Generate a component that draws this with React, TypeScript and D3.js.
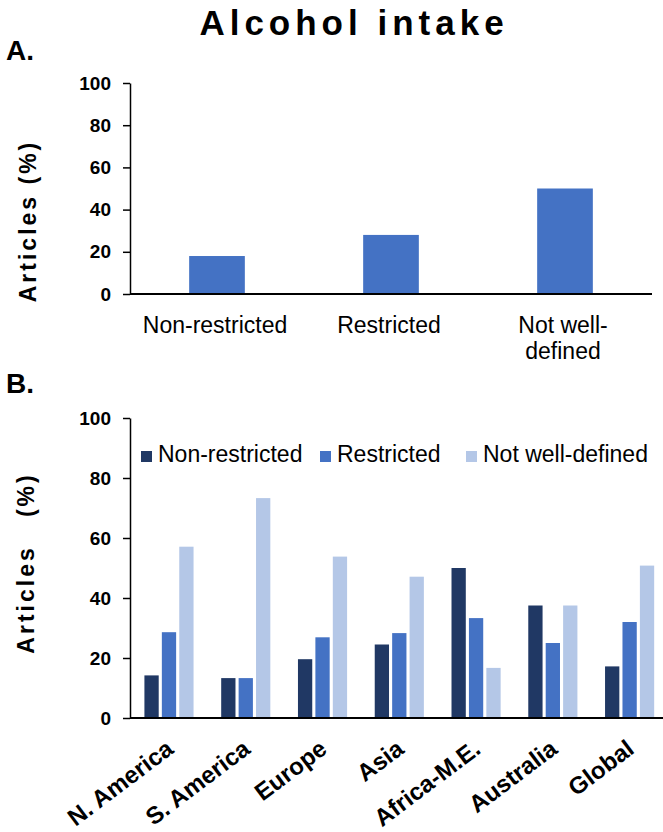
import React, { useEffect, useRef } from "react";
import * as d3 from "d3";

const W = 663;
const H = 832;
const FONT = "'Liberation Sans', Arial, Helvetica, sans-serif";

// Panel A
const catsA = ["Non-restricted", "Restricted", "Not well-defined"];
const labelsA = [["Non-restricted"], ["Restricted"], ["Not well-", "defined"]];
const valuesA = [18, 28, 50];

// Panel B
const regions = ["N. America", "S. America", "Europe", "Asia", "Africa-M.E.", "Australia", "Global"];
const seriesNames = ["Non-restricted", "Restricted", "Not well-defined"];
const nonRestricted = [14.2, 13.3, 19.6, 24.5, 50, 37.5, 17.2];
const restricted = [28.6, 13.3, 26.9, 28.3, 33.3, 25, 32];
const notWellDefined = [57.1, 73.3, 53.8, 47.1, 16.7, 37.5, 50.8];
const seriesColors = ["#203864", "#4472C4", "#B4C7E7"];
const yTicks = [0, 20, 40, 60, 80, 100];

export default function App() {
  const ref = useRef<SVGSVGElement | null>(null);

  useEffect(() => {
    const svg = d3.select(ref.current);
    svg.selectAll("*").remove();

    // Title
    svg.append("text")
      .attr("x", 354).attr("y", 35)
      .attr("text-anchor", "middle")
      .attr("font-family", FONT).attr("font-weight", "bold")
      .attr("font-size", 35).attr("letter-spacing", 5)
      .text("Alcohol intake");

    svg.append("text").attr("x", 6).attr("y", 60)
      .attr("font-family", FONT).attr("font-weight", "bold").attr("font-size", 28)
      .text("A.");
    svg.append("text").attr("x", 6).attr("y", 393)
      .attr("font-family", FONT).attr("font-weight", "bold").attr("font-size", 28)
      .text("B.");

    // ---------- Panel A ----------
    const axX = 130;
    const yA = d3.scaleLinear().domain([0, 100]).range([294, 83]);
    const xA = d3.scaleBand<string>().domain(catsA).range([axX, 652]).paddingInner(0.68).paddingOuter(0.34);

    const gA = svg.append("g");
    gA.selectAll("rect").data(valuesA).join("rect")
      .attr("x", (_d, i) => xA(catsA[i])!)
      .attr("width", xA.bandwidth())
      .attr("y", (d) => yA(d))
      .attr("height", (d) => yA(0) - yA(d))
      .attr("fill", "#4472C4");

    const axA = gA.append("g").attr("transform", `translate(${axX},0)`)
      .call(d3.axisLeft(yA).tickValues(yTicks).tickSize(7).tickPadding(12).tickSizeOuter(0));
    axA.select(".domain").attr("stroke", "#000").attr("stroke-width", 1.5);
    axA.selectAll(".tick line").attr("stroke", "#000").attr("stroke-width", 1.5);
    axA.selectAll(".tick text").attr("font-family", FONT).attr("font-weight", "bold").attr("font-size", 19).attr("fill", "#000");

    gA.append("line").attr("x1", axX).attr("x2", 652).attr("y1", yA(0)).attr("y2", yA(0))
      .attr("stroke", "#000").attr("stroke-width", 2);

    labelsA.forEach((lines, i) => {
      const cx = xA(catsA[i])! + xA.bandwidth() / 2;
      lines.forEach((ln, j) => {
        gA.append("text").attr("x", cx - 2).attr("y", 333 + j * 26)
          .attr("text-anchor", "middle").attr("font-family", FONT).attr("font-size", 23)
          .text(ln);
      });
    });

    gA.append("text")
      .attr("transform", `translate(36,221) rotate(-90)`)
      .attr("text-anchor", "middle").attr("font-family", FONT).attr("font-weight", "bold")
      .attr("font-size", 23).attr("letter-spacing", 3)
      .text("Articles (%)");

    // ---------- Panel B ----------
    const yB = d3.scaleLinear().domain([0, 100]).range([718, 418]);
    const x0 = d3.scaleBand<string>().domain(regions).range([130.6, 668]).paddingInner(0.36).paddingOuter(0.18);
    const x1 = d3.scaleBand<string>().domain(seriesNames).range([0, x0.bandwidth()]).paddingInner(0.18);
    const series = [nonRestricted, restricted, notWellDefined];

    const gB = svg.append("g");
    series.forEach((vals, s) => {
      gB.append("g").selectAll("rect").data(vals).join("rect")
        .attr("x", (_d, i) => x0(regions[i])! + x1(seriesNames[s])!)
        .attr("width", x1.bandwidth())
        .attr("y", (d) => yB(d))
        .attr("height", (d) => yB(0) - yB(d))
        .attr("fill", seriesColors[s]);
    });

    const axB = gB.append("g").attr("transform", `translate(${axX},0)`)
      .call(d3.axisLeft(yB).tickValues(yTicks).tickSize(7).tickPadding(12).tickSizeOuter(0));
    axB.select(".domain").attr("stroke", "#000").attr("stroke-width", 1.5);
    axB.selectAll(".tick line").attr("stroke", "#000").attr("stroke-width", 1.5);
    axB.selectAll(".tick text").attr("font-family", FONT).attr("font-weight", "bold").attr("font-size", 19).attr("fill", "#000");

    gB.append("line").attr("x1", axX).attr("x2", W).attr("y1", yB(0)).attr("y2", yB(0))
      .attr("stroke", "#000").attr("stroke-width", 2);

    regions.forEach((r) => {
      const cx = x0(r)! + x0.bandwidth() / 2;
      gB.append("text")
        .attr("transform", `translate(${cx + 6},${752}) rotate(-37)`)
        .attr("text-anchor", "end").attr("font-family", FONT).attr("font-weight", "bold")
        .attr("font-size", 24)
        .text(r);
    });

    gB.append("text")
      .attr("transform", `translate(34,563) rotate(-90)`)
      .attr("text-anchor", "middle").attr("font-family", FONT).attr("font-weight", "bold")
      .attr("font-size", 23).attr("letter-spacing", 3).attr("xml:space", "preserve")
      .text("Articles   (%)");

    // Legend
    const legX = [141, 320, 466];
    seriesNames.forEach((name, s) => {
      gB.append("rect").attr("x", legX[s]).attr("y", 451).attr("width", 11).attr("height", 11)
        .attr("fill", seriesColors[s]);
      gB.append("text").attr("x", legX[s] + 17).attr("y", 462)
        .attr("font-family", FONT).attr("font-size", 23).text(name);
    });
  }, []);

  return (
    <div style={{ position: "absolute", left: 0, top: 0 }}>
      <svg ref={ref} width={W} height={H} style={{ display: "block", background: "#fff" }} />
    </div>
  );
}
